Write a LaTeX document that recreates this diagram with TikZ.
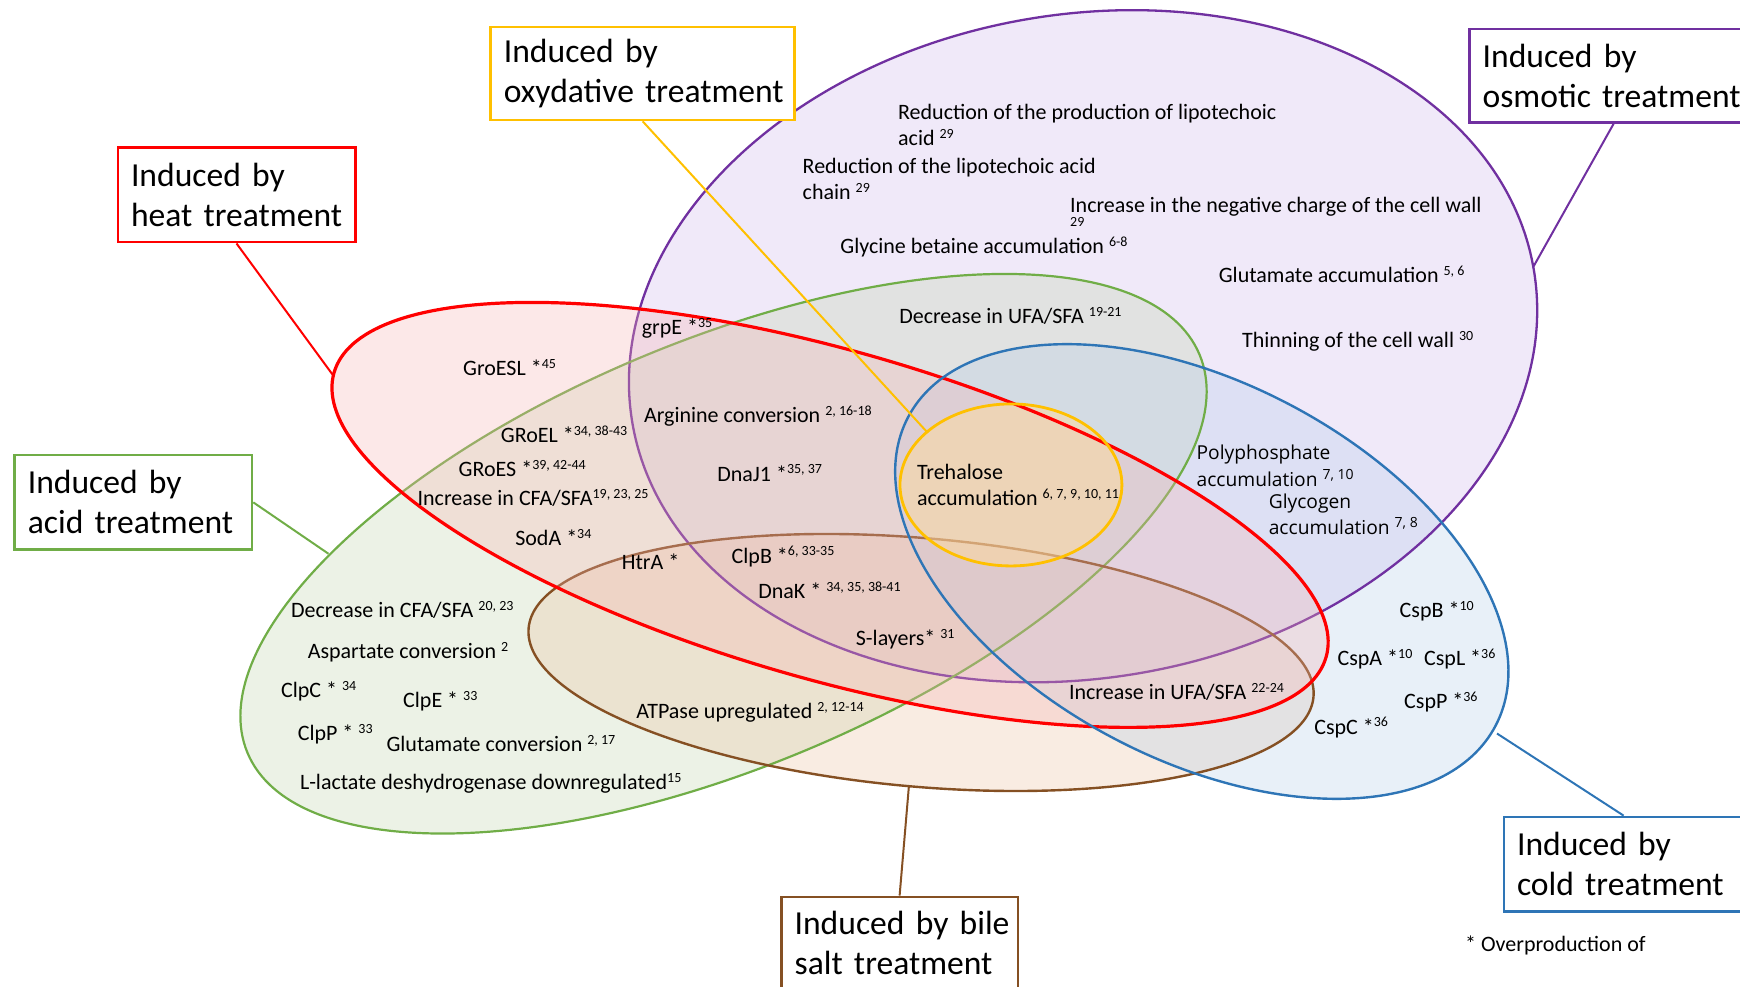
\documentclass[tikz,border=0pt]{standalone}
\usepackage{fontspec}
\setmainfont{Carlito}
\newfontfamily\osans{Open Sans}
\newcommand{\rsup}[1]{\raisebox{3.6pt}{\fontsize{7}{8}\selectfont #1}}
\definecolor{purpC}{RGB}{112,48,160}
\definecolor{redC}{RGB}{255,0,0}
\definecolor{greenC}{RGB}{112,173,71}
\definecolor{blueC}{RGB}{46,117,182}
\definecolor{brownC}{RGB}{133,80,35}
\definecolor{yelC}{RGB}{255,192,0}
\definecolor{purpF}{RGB}{205,182,235}
\definecolor{greenF}{RGB}{192,212,172}
\definecolor{brownF}{RGB}{235,192,158}
\definecolor{blueF}{RGB}{178,205,232}
\definecolor{redF}{RGB}{245,178,178}
\definecolor{yelF}{RGB}{255,218,154}
\begin{document}
\begin{tikzpicture}[x=0.55485pt,y=-0.55485pt,
  txt/.style={font=\fontsize{11}{13}\selectfont, inner sep=0pt, anchor=base west},
  txtt/.style={font=\fontsize{11}{13}\selectfont, inner sep=0pt, anchor=west, align=left},
  ostxt/.style={font=\osans\fontsize{9.6}{13.3}\selectfont, inner sep=0pt, anchor=west, align=left},
  lbox/.style={draw, line width=1.3pt, fill=white, font=\fontsize{16.8}{20}\selectfont, align=left, anchor=north west, inner xsep=6.6pt, inner ysep=0pt},
  conn/.style={line width=1pt},
  tint/.style={fill opacity=0.3}]
\clip (0,0) rectangle (1568,888.6);
% ---- fills (and strokes of the lower sets)
\begin{scope}[rotate around={9.7:(976,312)}]
  \fill[purpF, tint] (976,312) ellipse [x radius=412, y radius=299];
\end{scope}
\begin{scope}[rotate around={22.7:(652,499)}]
  \fill[greenF, tint] (652,499) ellipse [x radius=465, y radius=192];
\end{scope}
\begin{scope}[rotate around={-5:(830,597)}]
  \fill[brownF, tint] (830,597) ellipse [x radius=355, y radius=112];
\end{scope}
\begin{scope}[rotate around={-27.7:(1083,515)}]
  \fill[blueF, tint] (1083,515) ellipse [x radius=299, y radius=170];
\end{scope}
\begin{scope}[rotate around={9.7:(976,312)}]
  \draw[purpC, line width=1.15pt] (976,312) ellipse [x radius=412, y radius=299];
\end{scope}
\begin{scope}[rotate around={22.7:(652,499)}]
  \draw[greenC, line width=1.1pt] (652,499) ellipse [x radius=465, y radius=192];
\end{scope}
\begin{scope}[rotate around={-5:(830,597)}]
  \draw[brownC, line width=1.2pt] (830,597) ellipse [x radius=355, y radius=112];
\end{scope}
\begin{scope}[rotate around={-16:(748,464)}]
  \fill[redF, tint] (748,464) ellipse [x radius=465, y radius=148];
\end{scope}
\fill[yelF, fill opacity=0.5] (911,437) ellipse [x radius=100, y radius=73];
\begin{scope}[rotate around={-16:(748,464)}]
  \draw[redC, line width=1.6pt] (748,464) ellipse [x radius=465, y radius=148];
\end{scope}
\begin{scope}[rotate around={-27.7:(1083,515)}]
  \draw[blueC, line width=1.2pt] (1083,515) ellipse [x radius=299, y radius=170];
\end{scope}
\draw[yelC, line width=1.4pt] (911,437) ellipse [x radius=100, y radius=73];

% ---- connector ends on the sets
\coordinate (oxidE) at (836,390);
\coordinate (heatE) at (300,338);
\coordinate (osmE) at (1382,240);
\coordinate (acidE) at (296,499);
\coordinate (bileE) at (819,709);
\coordinate (coldE) at (1349,661);

% ---- label boxes
\node[lbox, draw=yelC, minimum width=152pt, text width=138.8pt, minimum height=46.6pt] (oxid) at (441,23) {\mbox{Induced by}\\\mbox{oxydative treatment}};
\node[lbox, draw=redC, minimum width=118.7pt, text width=105.5pt, minimum height=47.2pt] (heat) at (105,132) {\mbox{Induced by}\\\mbox{heat treatment}};
\node[lbox, draw=purpC, minimum width=144.3pt, text width=131.1pt, minimum height=46.6pt] (osm) at (1323,25) {\mbox{Induced by}\\\mbox{osmotic treatment}};
\node[lbox, draw=greenC, minimum width=118.7pt, text width=105.5pt, minimum height=47.2pt] (acid) at (12,409) {\mbox{Induced by}\\\mbox{acid treatment}};
\node[lbox, draw=brownC, minimum width=118.2pt, text width=105pt, minimum height=46.6pt] (bile) at (703,807) {\mbox{Induced by bile}\\\mbox{salt treatment}};
\node[lbox, draw=blueC, minimum width=119.8pt, text width=106.6pt, minimum height=47.2pt] (cold) at (1354,735) {\mbox{Induced by}\\\mbox{cold treatment}};

% ---- connectors
\draw[conn, yelC] (oxid.south) -- (oxidE);
\draw[conn, redC] (heat.south) -- (heatE);
\draw[conn, purpC] (osm.south) -- (osmE);
\draw[conn, greenC] (acid.east) -- (acidE);
\draw[conn, brownC] (bileE) -- (bile.north);
\draw[conn, blueC] (coldE) -- (cold.north);

% ---- texts
\node[txtt] (t1) at (809,112.5) {Reduction of the production of lipotechoic\\acid \rsup{29}};
\node[txtt] (t2) at (723,161.5) {Reduction of the lipotechoic acid\\chain \rsup{29}};
\node[txt] (t3) at (964,191.5) {\rlap{\raisebox{-6.8pt}[0pt][0pt]{\fontsize{7}{8}\selectfont 29}}Increase in the negative charge of the cell wall};
\node[txt] (t4) at (757,228.5) {Glycine betaine accumulation \rsup{6-8}};
\node[txt] (t5) at (1098,254.5) {Glutamate accumulation \rsup{5, 6}};
\node[txt] (t6) at (810,291.5) {Decrease in UFA/SFA \rsup{19-21}};
\node[txt] (t7) at (1119,313.5) {Thinning of the cell wall \rsup{30}};
\node[txt] (t8) at (578,301.5) {grpE *\rsup{35}};
\node[txt] (t9) at (417,338.5) {GroESL *\rsup{45}};
\node[txt] (t10) at (580,380.5) {Arginine conversion \rsup{2, 16-18}};
\node[txt] (t11) at (451,398.5) {GRoEL *\rsup{34, 38-43}};
\node[txt] (t12) at (413,429.5) {GRoES *\rsup{39, 42-44}};
\node[txt] (t13) at (646,433.5) {DnaJ1 *\rsup{35, 37}};
\node[txtt] (t14) at (826,437) {Trehalose\\accumulation \rsup{6, 7, 9, 10, 11}};
\node[ostxt] (t15) at (1078,420) {Polyphosphate\\accumulation \rsup{7, 10}};
\node[ostxt] (t16) at (1143,463.5) {Glycogen\\accumulation \rsup{7, 8}};
\node[txt] (t17) at (376,455.5) {Increase in CFA/SFA\rsup{19, 23, 25}};
\node[txt] (t18) at (464,491.5) {SodA *\rsup{34}};
\node[txt] (t19) at (560,513.5) {HtrA *};
\node[txt] (t20) at (659,507.5) {ClpB *\rsup{6, 33-35}};
\node[txt] (t21) at (683,539.5) {DnaK * \rsup{34, 35, 38-41}};
\node[txt] (t22) at (262,556.5) {Decrease in CFA/SFA \rsup{20, 23}};
\node[txt] (t23) at (1261,556.5) {CspB *\rsup{10}};
\node[txt] (t24) at (771,581.5) {S-layers* \rsup{31}};
\node[txt] (t25) at (277,593.5) {Aspartate conversion \rsup{2}};
\node[txt] (t26) at (1205,599.5) {CspA *\rsup{10}};
\node[txt] (t27) at (1283,599.5) {CspL *\rsup{36}};
\node[txt] (t28) at (253,628.5) {ClpC * \rsup{34}};
\node[txt] (t29) at (363,637.5) {ClpE * \rsup{33}};
\node[txt] (t30) at (963,630.5) {Increase in UFA/SFA \rsup{22-24}};
\node[txt] (t31) at (1265,638.5) {CspP *\rsup{36}};
\node[txt] (t32) at (573,647.5) {ATPase upregulated \rsup{2, 12-14}};
\node[txt] (t33) at (1184,661.5) {CspC *\rsup{36}};
\node[txt] (t34) at (268,667.5) {ClpP * \rsup{33}};
\node[txt] (t35) at (348,677.5) {Glutamate conversion \rsup{2, 17}};
\node[txt] (t36) at (270,711.5) {L-lactate deshydrogenase downregulated\rsup{15}};
\node[txt] (t37) at (1320,857.5) {* Overproduction of};
\end{tikzpicture}
\end{document}
